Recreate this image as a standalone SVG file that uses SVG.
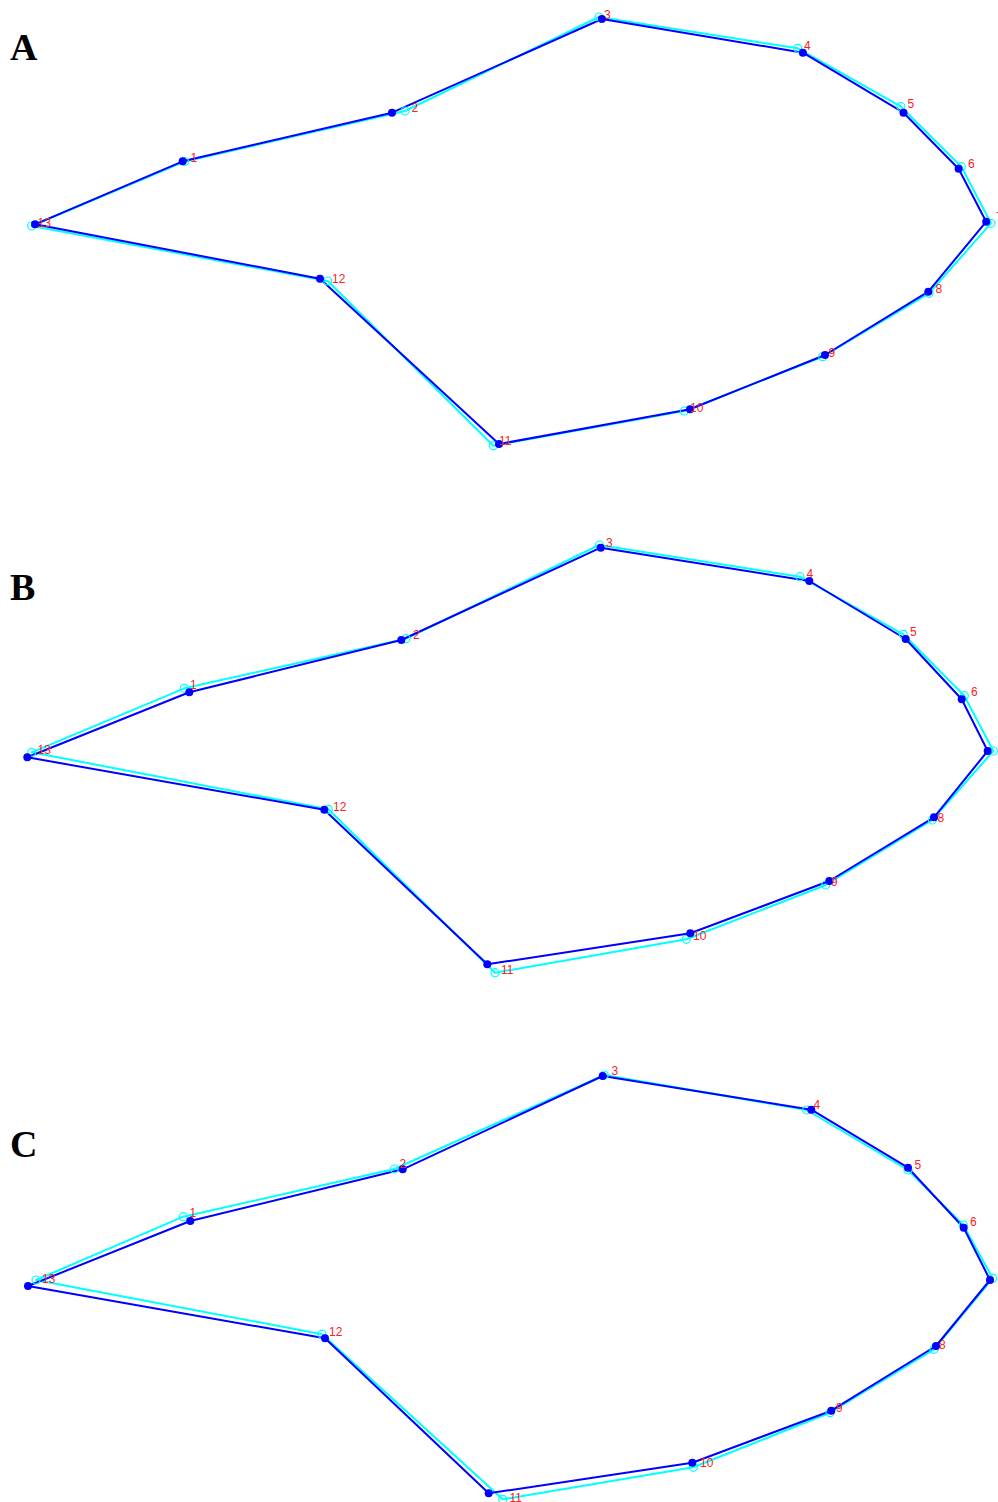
<svg xmlns="http://www.w3.org/2000/svg" width="998" height="1502" viewBox="0 0 998 1502">
  <style>
    .ref { fill: none; stroke: #00ffff; stroke-width: 2; stroke-linejoin: round; }
    .refpt { fill: none; stroke: #00ffff; stroke-width: 1.2; }
    .fit { fill: none; stroke: #0000ff; stroke-width: 2; stroke-linejoin: round; }
    .fitpt { fill: #0000ff; stroke: none; }
    .num { font-family: "Liberation Sans", Arial, sans-serif; font-size: 12px; fill: #ff2020; }
    .panel { font-family: "Liberation Serif", "Times New Roman", serif; font-size: 38px; font-weight: bold; fill: #000000; }
  </style>
  <rect x="0" y="0" width="998" height="1502" fill="#ffffff"/>

  <!-- Panel A -->
  <g id="panelA">
    <text class="panel" x="10" y="60">A</text>
    <g id="A-connectors">
      <polygon class="ref" points="184.5,161.5 405,111 599,17 797.8,48.3 901,106.7 961.4,166.7 991,223.3 929,293.3 822.7,356.7 684.3,411 493.3,445.7 327.7,281 31.7,226"/>
      <polygon class="fit" points="182.7,161.3 392,112.7 601.9,19 802.9,52.7 903.5,112.7 958.6,168.7 986.2,221.7 928.3,291.7 825,355 690,409.3 499,444 320,278.7 35,224.3"/>
    </g>
    <g id="A-reference-points">
      <circle class="refpt" cx="184.5" cy="161.5" r="4"/>
      <circle class="refpt" cx="405" cy="111" r="4"/>
      <circle class="refpt" cx="599" cy="17" r="4"/>
      <circle class="refpt" cx="797.8" cy="48.3" r="4"/>
      <circle class="refpt" cx="901" cy="106.7" r="4"/>
      <circle class="refpt" cx="961.4" cy="166.7" r="4"/>
      <circle class="refpt" cx="991" cy="223.3" r="4"/>
      <circle class="refpt" cx="929" cy="293.3" r="4"/>
      <circle class="refpt" cx="822.7" cy="356.7" r="4"/>
      <circle class="refpt" cx="684.3" cy="411" r="4"/>
      <circle class="refpt" cx="493.3" cy="445.7" r="4"/>
      <circle class="refpt" cx="327.7" cy="281" r="4"/>
      <circle class="refpt" cx="31.7" cy="226" r="4"/>
    </g>
    <g id="A-fitted-points">
      <circle class="fitpt" cx="182.7" cy="161.3" r="4"/>
      <circle class="fitpt" cx="392" cy="112.7" r="4"/>
      <circle class="fitpt" cx="601.9" cy="19" r="4"/>
      <circle class="fitpt" cx="802.9" cy="52.7" r="4"/>
      <circle class="fitpt" cx="903.5" cy="112.7" r="4"/>
      <circle class="fitpt" cx="958.6" cy="168.7" r="4"/>
      <circle class="fitpt" cx="986.2" cy="221.7" r="4"/>
      <circle class="fitpt" cx="928.3" cy="291.7" r="4"/>
      <circle class="fitpt" cx="825" cy="355" r="4"/>
      <circle class="fitpt" cx="690" cy="409.3" r="4"/>
      <circle class="fitpt" cx="499" cy="444" r="4"/>
      <circle class="fitpt" cx="320" cy="278.7" r="4"/>
      <circle class="fitpt" cx="35" cy="224.3" r="4"/>
    </g>
    <g id="A-labels">
      <text class="num" x="190.4" y="161.5">1</text>
      <text class="num" x="411.5" y="112">2</text>
      <text class="num" x="604" y="19">3</text>
      <text class="num" x="804" y="50">4</text>
      <text class="num" x="907.5" y="108">5</text>
      <text class="num" x="968" y="168">6</text>
      <text class="num" x="996" y="221">7</text>
      <text class="num" x="935.5" y="293.3">8</text>
      <text class="num" x="828.5" y="357">9</text>
      <text class="num" x="690" y="411.5">10</text>
      <text class="num" x="499" y="445">11</text>
      <text class="num" x="332" y="283">12</text>
      <text class="num" x="37.5" y="226.5">13</text>
    </g>
  </g>

  <!-- Panel B -->
  <g id="panelB">
    <text class="panel" x="10" y="600">B</text>
    <g id="B-connectors">
      <polygon class="ref" points="184.3,688.3 406,638.7 599.3,545 800,576.7 903.3,634.3 964.3,695.7 993.3,751 932.3,820 825.7,885 686.3,939.3 495,972.7 328.3,809.3 31.7,752.3"/>
      <polygon class="fit" points="189.3,692.3 401.3,640 600.7,547.7 809.3,581 905.7,639 961.7,699.3 987.7,751 934,817.3 829.3,881 690.3,933.3 487.3,964.3 324.3,809.7 27.3,757.3"/>
    </g>
    <g id="B-reference-points">
      <circle class="refpt" cx="184.3" cy="688.3" r="4"/>
      <circle class="refpt" cx="406" cy="638.7" r="4"/>
      <circle class="refpt" cx="599.3" cy="545" r="4"/>
      <circle class="refpt" cx="800" cy="576.7" r="4"/>
      <circle class="refpt" cx="903.3" cy="634.3" r="4"/>
      <circle class="refpt" cx="964.3" cy="695.7" r="4"/>
      <circle class="refpt" cx="993.3" cy="751" r="4"/>
      <circle class="refpt" cx="932.3" cy="820" r="4"/>
      <circle class="refpt" cx="825.7" cy="885" r="4"/>
      <circle class="refpt" cx="686.3" cy="939.3" r="4"/>
      <circle class="refpt" cx="495" cy="972.7" r="4"/>
      <circle class="refpt" cx="328.3" cy="809.3" r="4"/>
      <circle class="refpt" cx="31.7" cy="752.3" r="4"/>
    </g>
    <g id="B-fitted-points">
      <circle class="fitpt" cx="189.3" cy="692.3" r="4"/>
      <circle class="fitpt" cx="401.3" cy="640" r="4"/>
      <circle class="fitpt" cx="600.7" cy="547.7" r="4"/>
      <circle class="fitpt" cx="809.3" cy="581" r="4"/>
      <circle class="fitpt" cx="905.7" cy="639" r="4"/>
      <circle class="fitpt" cx="961.7" cy="699.3" r="4"/>
      <circle class="fitpt" cx="987.7" cy="751" r="4"/>
      <circle class="fitpt" cx="934" cy="817.3" r="4"/>
      <circle class="fitpt" cx="829.3" cy="881" r="4"/>
      <circle class="fitpt" cx="690.3" cy="933.3" r="4"/>
      <circle class="fitpt" cx="487.3" cy="964.3" r="4"/>
      <circle class="fitpt" cx="324.3" cy="809.7" r="4"/>
      <circle class="fitpt" cx="27.3" cy="757.3" r="4"/>
    </g>
    <g id="B-labels">
      <text class="num" x="190" y="689">1</text>
      <text class="num" x="413" y="639.3">2</text>
      <text class="num" x="606" y="546.7">3</text>
      <text class="num" x="806.5" y="577.7">4</text>
      <text class="num" x="910" y="636">5</text>
      <text class="num" x="971" y="696">6</text>
      <text class="num" x="937.5" y="821.7">8</text>
      <text class="num" x="831" y="885.5">9</text>
      <text class="num" x="693" y="940">10</text>
      <text class="num" x="501" y="974">11</text>
      <text class="num" x="333" y="810.5">12</text>
      <text class="num" x="37.5" y="754.3">13</text>
    </g>
  </g>

  <!-- Panel C -->
  <g id="panelC">
    <text class="panel" x="10" y="1157">C</text>
    <g id="C-connectors">
      <polygon class="ref" points="183.3,1216.7 394.3,1169 604.3,1075 806.7,1110 908,1170 963.3,1225 992.7,1278.3 934,1349.3 830,1412.7 693.3,1467.3 502.7,1499.3 322,1334.2 36,1280"/>
      <polygon class="fit" points="190.3,1221 402.7,1169.3 602.7,1076 811.3,1109.7 908,1167.7 963.7,1227.7 990,1280 936,1346 831.3,1410.7 692.3,1462.7 488.7,1493.3 325,1338.3 28,1286"/>
    </g>
    <g id="C-reference-points">
      <circle class="refpt" cx="183.3" cy="1216.7" r="4"/>
      <circle class="refpt" cx="394.3" cy="1169" r="4"/>
      <circle class="refpt" cx="604.3" cy="1075" r="4"/>
      <circle class="refpt" cx="806.7" cy="1110" r="4"/>
      <circle class="refpt" cx="908" cy="1170" r="4"/>
      <circle class="refpt" cx="963.3" cy="1225" r="4"/>
      <circle class="refpt" cx="992.7" cy="1278.3" r="4"/>
      <circle class="refpt" cx="934" cy="1349.3" r="4"/>
      <circle class="refpt" cx="830" cy="1412.7" r="4"/>
      <circle class="refpt" cx="693.3" cy="1467.3" r="4"/>
      <circle class="refpt" cx="502.7" cy="1499.3" r="4"/>
      <circle class="refpt" cx="322" cy="1334.2" r="4"/>
      <circle class="refpt" cx="36" cy="1280" r="4"/>
    </g>
    <g id="C-fitted-points">
      <circle class="fitpt" cx="190.3" cy="1221" r="4"/>
      <circle class="fitpt" cx="402.7" cy="1169.3" r="4"/>
      <circle class="fitpt" cx="602.7" cy="1076" r="4"/>
      <circle class="fitpt" cx="811.3" cy="1109.7" r="4"/>
      <circle class="fitpt" cx="908" cy="1167.7" r="4"/>
      <circle class="fitpt" cx="963.7" cy="1227.7" r="4"/>
      <circle class="fitpt" cx="990" cy="1280" r="4"/>
      <circle class="fitpt" cx="936" cy="1346" r="4"/>
      <circle class="fitpt" cx="831.3" cy="1410.7" r="4"/>
      <circle class="fitpt" cx="692.3" cy="1462.7" r="4"/>
      <circle class="fitpt" cx="488.7" cy="1493.3" r="4"/>
      <circle class="fitpt" cx="325" cy="1338.3" r="4"/>
      <circle class="fitpt" cx="28" cy="1286" r="4"/>
    </g>
    <g id="C-labels">
      <text class="num" x="189.5" y="1217.3">1</text>
      <text class="num" x="399.5" y="1168.3">2</text>
      <text class="num" x="611.5" y="1075">3</text>
      <text class="num" x="813.5" y="1109.3">4</text>
      <text class="num" x="914.5" y="1169">5</text>
      <text class="num" x="970" y="1226">6</text>
      <text class="num" x="939" y="1349.3">8</text>
      <text class="num" x="836" y="1411.7">9</text>
      <text class="num" x="700" y="1467.3">10</text>
      <text class="num" x="509.5" y="1501.5">11</text>
      <text class="num" x="329" y="1336">12</text>
      <text class="num" x="42" y="1282.7">13</text>
    </g>
  </g>
</svg>
